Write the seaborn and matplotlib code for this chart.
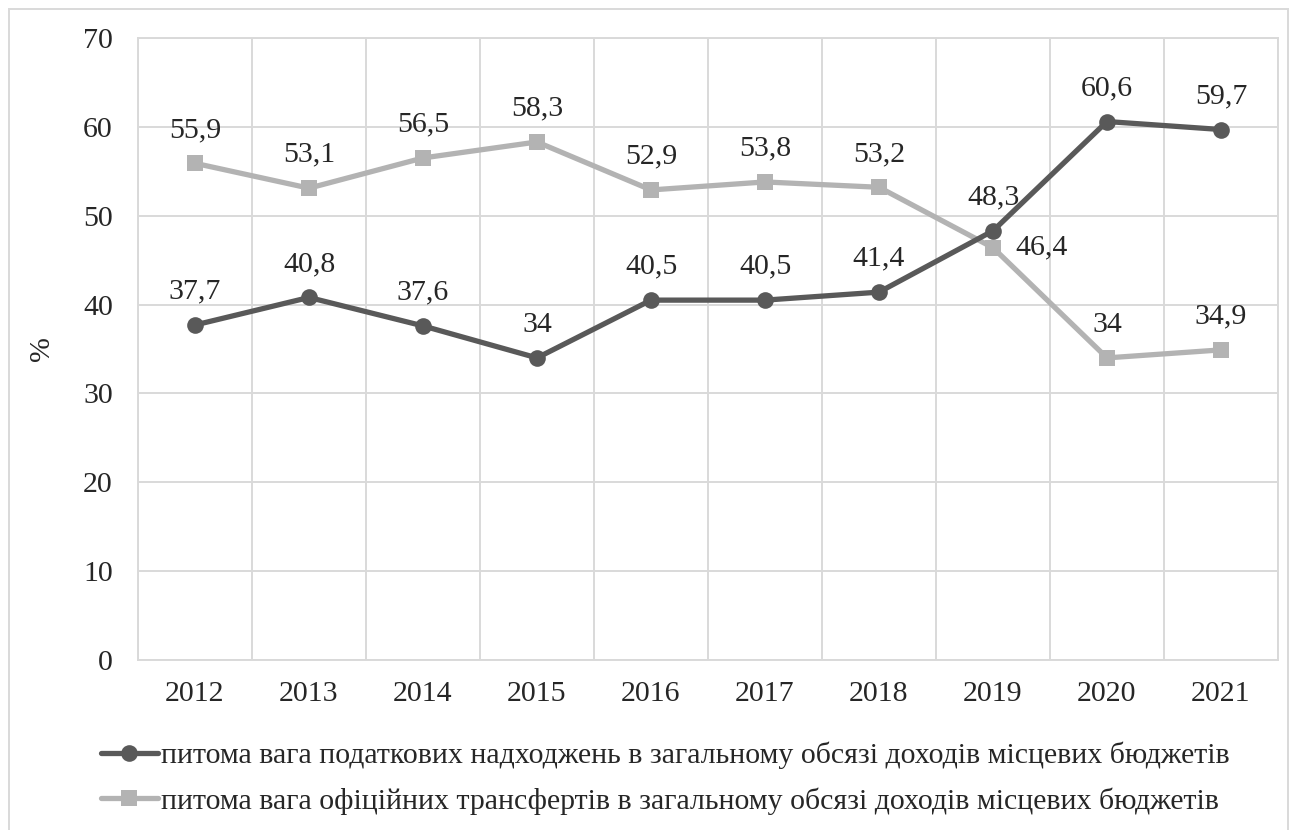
import numpy as np
import pandas as pd
import seaborn as sns
import matplotlib.pyplot as plt
from matplotlib.lines import Line2D
from matplotlib.patches import Rectangle

## data ##
years = ['2012', '2013', '2014', '2015', '2016', '2017', '2018', '2019', '2020', '2021']
tax_share = [37.7, 40.8, 37.6, 34.0, 40.5, 40.5, 41.4, 48.3, 60.6, 59.7]
transfer_share = [55.9, 53.1, 56.5, 58.3, 52.9, 53.8, 53.2, 46.4, 34.0, 34.9]
series_names = ['питома вага податкових надходжень в загальному обсязі доходів місцевих бюджетів',
                'питома вага офіційних трансфертів в загальному обсязі доходів місцевих бюджетів']

sns.set_style('white')
plt.rcParams['font.family'] = ['Liberation Serif', 'DejaVu Serif']

dark = '#595959'
light = '#b3b3b3'
grid_c = '#d9d9d9'
fs = 21.5

df = pd.DataFrame({'year': years * 2,
                   'value': tax_share + transfer_share,
                   'series': [series_names[0]] * len(years) + [series_names[1]] * len(years)})

fig = plt.figure(figsize=(12.95, 8.3), dpi=100)
ax = fig.add_axes([138 / 1295, 1 - 660 / 830, (1278 - 138) / 1295, (660 - 38) / 830])

# tax share (dark, circles) and transfers (light, squares)
sns.lineplot(data=df[df['series'] == series_names[0]], x='year', y='value', ax=ax,
             color=dark, linewidth=3.8, marker='o', markersize=12,
             markeredgewidth=0, legend=False, zorder=4)
sns.lineplot(data=df[df['series'] == series_names[1]], x='year', y='value', ax=ax,
             color=light, linewidth=3.8, marker='s', markersize=11.5,
             markeredgewidth=0, legend=False, zorder=3)

# data labels
fmt = lambda v: f'{v:g}'.replace('.', ',')
for i, v in enumerate(tax_share):
    ax.annotate(fmt(v), (i, v), xytext=(0, 24), textcoords='offset points',
                ha='center', va='center', fontsize=fs)
for i, v in enumerate(transfer_share):
    if years[i] == '2019':
        ax.annotate(fmt(v), (i, v), xytext=(16, 0), textcoords='offset points',
                    ha='left', va='center', fontsize=fs)
    else:
        ax.annotate(fmt(v), (i, v), xytext=(0, 24), textcoords='offset points',
                    ha='center', va='center', fontsize=fs)

ax.set_xlim(-0.5, len(years) - 0.5)
ax.set_ylim(0, 70)
ax.set_yticks(np.arange(0, 71, 10))
ax.set_xticks(np.arange(-0.5, len(years), 1), minor=True)
ax.grid(False)
ax.grid(True, which='minor', axis='x', color=grid_c, linewidth=1.4)
ax.grid(True, which='major', axis='y', color=grid_c, linewidth=1.4)
ax.tick_params(axis='both', which='both', length=0, labelsize=fs)
ax.tick_params(axis='y', pad=18)
ax.tick_params(axis='x', pad=15)
for s in ax.spines.values():
    s.set_color(grid_c)
    s.set_linewidth(1.4)
ax.set_xlabel('')
ax.set_ylabel('%', fontsize=fs)
ax.yaxis.set_label_coords(-(138 - 55) / 1140, 0.5)

handles = [Line2D([], [], color=dark, lw=3.8, marker='o', markersize=12, markeredgewidth=0),
           Line2D([], [], color=light, lw=3.8, marker='s', markersize=11.5, markeredgewidth=0)]
fig.legend(handles, series_names, loc='upper left', bbox_to_anchor=(89 / 1295, 1 - 730 / 830),
           frameon=False, fontsize=fs, handlelength=1.9, handletextpad=0.1,
           labelspacing=0.6, borderaxespad=0)

# outer chart border
fig.patches.append(Rectangle((9 / 1295, -0.01), (1288 - 9) / 1295, 1.0 - 9 / 830 + 0.01,
                             transform=fig.transFigure, fill=False,
                             edgecolor=grid_c, linewidth=1.4))

fig.savefig('out.png', dpi=100)
